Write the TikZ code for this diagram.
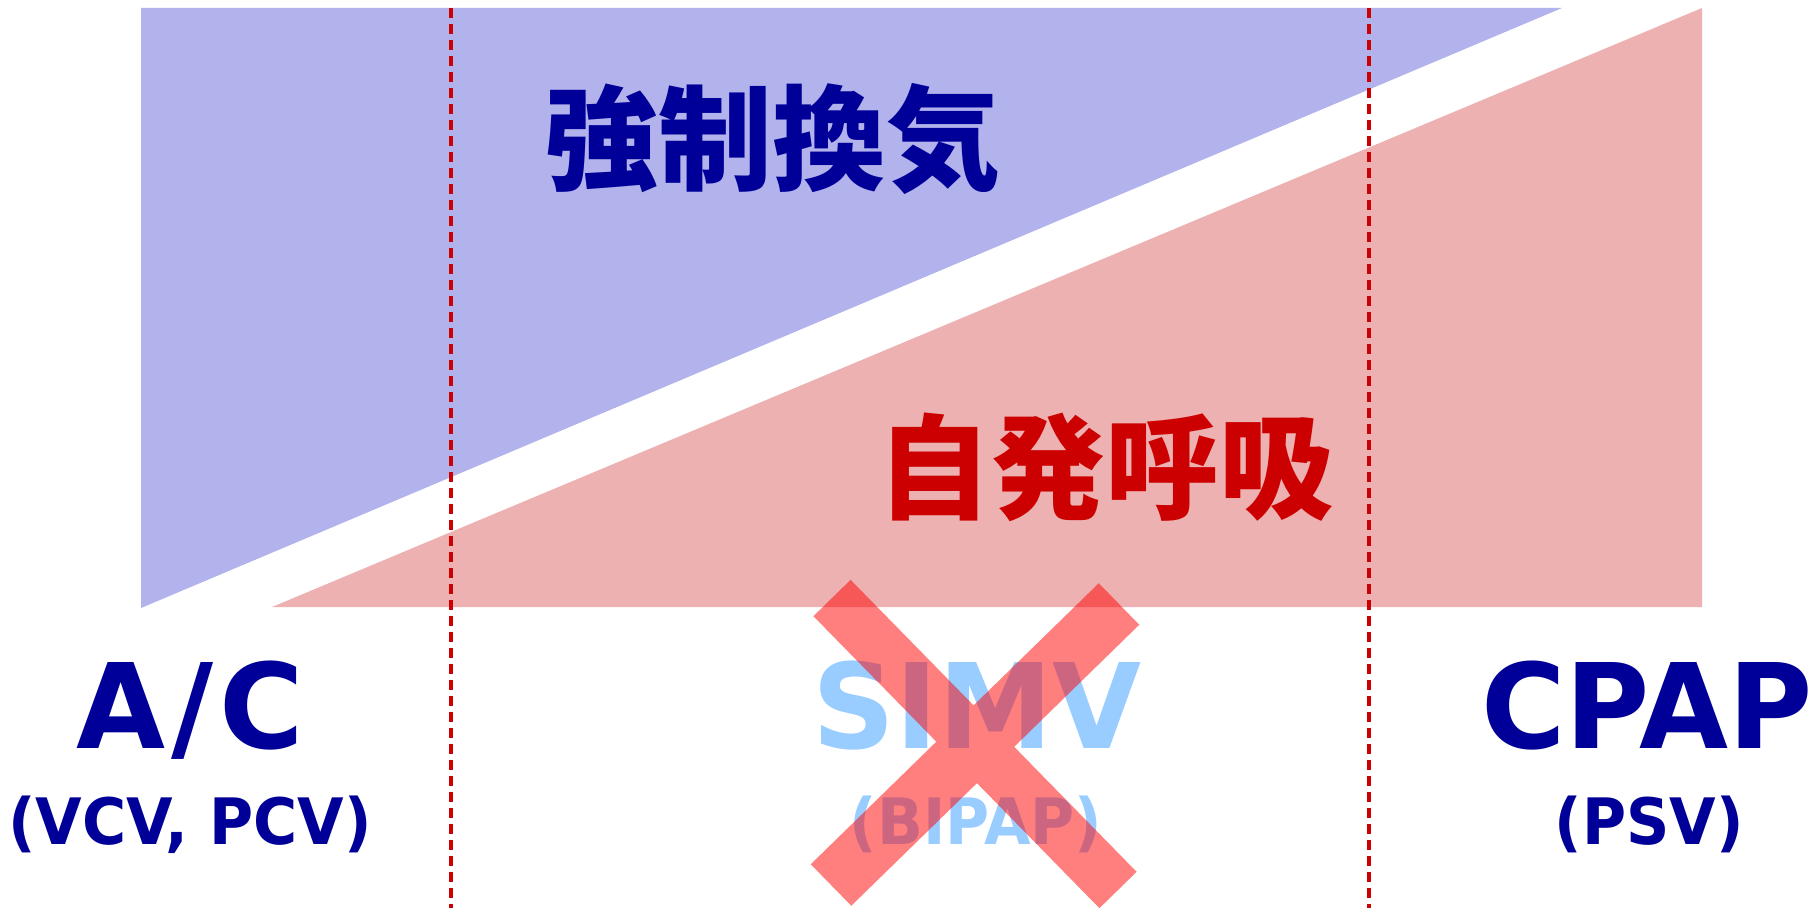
\documentclass[tikz,border=0pt]{standalone}
\usepackage{fontspec}
\setmainfont{DejaVu Sans}
\newfontfamily\cjk{Noto Sans CJK JP}
\newfontfamily\modefont{DejaVu Sans}[FakeStretch=0.975]
\newfontfamily\subfont{DejaVu Sans}[FakeStretch=0.94]
\definecolor{bluefill}{RGB}{178,178,236}
\definecolor{pinkfill}{RGB}{237,177,177}
\definecolor{darkblue}{RGB}{0,0,153}
\definecolor{darkred}{RGB}{204,0,0}
\definecolor{lightblue}{RGB}{153,204,255}
\tikzset{
  divider/.style={draw=darkred, line width=1.7pt, dash pattern=on 5pt off 3pt},
  cjklabel/.style={inner sep=0pt, font=\cjk\bfseries\fontsize{57pt}{60pt}\selectfont},
  modelabel/.style={inner sep=0pt, anchor=base, font=\modefont\bfseries\fontsize{59pt}{62pt}\selectfont},
  sublabel/.style={inner sep=0pt, anchor=base, font=\subfont\bfseries\fontsize{32pt}{34pt}\selectfont},
  crossbar/.style={draw=red, line cap=butt}
}
\begin{document}
\begin{tikzpicture}[x=0.5pt,y=-0.5pt]
\useasboundingbox (0,0) rectangle (1813,908);
% triangles
\fill[bluefill] (141,8) -- (1562,8) -- (141,608) -- cycle;
\fill[pinkfill] (272,607) -- (1702,8) -- (1702,607) -- cycle;
% dividers
\coordinate (d1t) at (451,8);
\coordinate (d1b) at (451,908);
\coordinate (d2t) at (1369,8);
\coordinate (d2b) at (1369,908);
\draw[divider] (d1t) -- (d1b);
\draw[divider] (d2t) -- (d2b);
% region labels
\node[cjklabel, text=darkblue] (forced) at (772,139) {強制換気};
\node[cjklabel, text=darkred] (spont) at (1105,467) {自発呼吸};
% mode labels
\node[modelabel, text=darkblue] (ac) at (190,748) {A\kern3pt/\kern3pt C};
\node[sublabel, text=darkblue] (acsub) at (190,844) {(VCV, PCV)};
\node[modelabel, text=lightblue] (simv) at (977,748) {SIMV};
\node[sublabel, text=lightblue] (simvsub) at (976,844) {(BIPAP)};
\node[modelabel, text=darkblue] (cpap) at (1647,748) {CPAP};
\node[sublabel, text=darkblue] (cpapsub) at (1649,844) {(PSV)};
% cross
\coordinate (x1a) at (832,598);
\coordinate (x1b) at (1118,890);
\coordinate (x2a) at (1119,604);
\coordinate (x2b) at (831,885);
\begin{scope}[transparency group, opacity=0.5]
\draw[crossbar, line width=26pt] (x1a) -- (x1b);
\draw[crossbar, line width=29pt] (x2a) -- (x2b);
\end{scope}
\end{tikzpicture}
\end{document}
